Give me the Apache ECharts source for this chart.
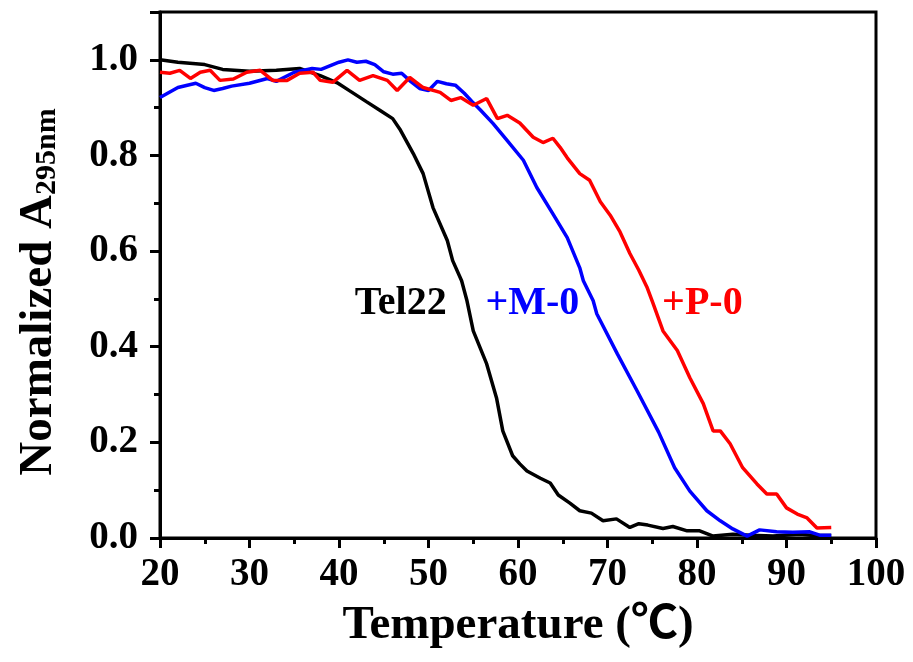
<!DOCTYPE html>
<html>
<head>
<meta charset="utf-8">
<script src="https://cdn.jsdelivr.net/npm/echarts@6/dist/echarts.min.js"></script>
<style>
  html, body { margin: 0; padding: 0; background: #fff; }
  #chart { width: 913px; height: 662px; }
</style>
</head>
<body>
<div id="chart"></div>
<script>
// 熔解曲线数据 [温度, 归一化吸光度]
const tel22 = [
  [20, 1.0], [22, 0.995], [25, 0.99], [27, 0.98], [30, 0.976], [33, 0.978],
  [35.6, 0.982], [37.9, 0.967], [39.8, 0.952], [41.2, 0.935], [43.1, 0.912],
  [44.6, 0.894], [46, 0.877], [46.8, 0.855], [48.3, 0.804], [49.4, 0.762],
  [50.5, 0.691], [52.1, 0.622], [52.7, 0.58], [53.7, 0.538], [54.3, 0.496],
  [55, 0.433], [56.5, 0.364], [57.6, 0.293], [58.3, 0.224], [59.4, 0.172],
  [60.2, 0.155], [61, 0.14], [62.5, 0.125], [63.6, 0.115], [64.5, 0.09],
  [65.8, 0.073], [66.9, 0.057], [68.2, 0.052], [69.5, 0.036], [71, 0.04],
  [72.5, 0.022], [73.5, 0.03], [74.5, 0.027], [76.2, 0.02], [77.3, 0.024],
  [78.9, 0.015], [80.3, 0.015], [81.8, 0.004], [84, 0.008], [86, 0.006],
  [88.5, 0.004], [91.5, 0.008], [93, 0.005], [95, 0.005]
]
const m0 = [
  [20, 0.921], [22, 0.942], [24, 0.951], [25, 0.942], [26, 0.936], [27, 0.94],
  [28, 0.945], [30, 0.951], [32, 0.961], [33, 0.955], [35, 0.974], [37, 0.982],
  [38, 0.98], [40, 0.995], [41, 1.0], [42, 0.995], [43, 0.997], [44, 0.99],
  [45, 0.975], [46, 0.97], [47, 0.972], [48, 0.955], [49, 0.94], [50, 0.936],
  [51, 0.955], [52, 0.95], [53, 0.947], [54, 0.93], [55, 0.91], [55.8, 0.895],
  [57.2, 0.867], [58.8, 0.831], [60.6, 0.79], [62.1, 0.733], [63.9, 0.678],
  [65.5, 0.628], [66.9, 0.565], [67.3, 0.538], [68.4, 0.496], [68.8, 0.469],
  [71.1, 0.385], [73.3, 0.308], [75.7, 0.222], [77.5, 0.147], [79.2, 0.098],
  [81.1, 0.057], [82.6, 0.036], [84, 0.019], [85.6, 0.004], [87, 0.017],
  [88.9, 0.013], [90.7, 0.012], [92.6, 0.013], [93.7, 0.006], [95, 0.006]
]
const p0 = [
  [20, 0.974], [21.1, 0.972], [22.2, 0.978], [23.4, 0.961], [24.5, 0.974],
  [25.6, 0.978], [26.7, 0.957], [28.2, 0.96], [29.7, 0.974], [31.2, 0.978],
  [32.6, 0.957], [34.2, 0.957], [35.6, 0.972], [37.1, 0.974], [37.9, 0.957],
  [39.3, 0.953], [40.9, 0.978], [42.3, 0.957], [43.8, 0.967], [45.4, 0.957],
  [46.5, 0.936], [47.9, 0.963], [49.4, 0.942], [51.3, 0.932], [52.5, 0.915],
  [53.6, 0.921], [55, 0.905], [56.5, 0.919], [57.7, 0.877], [58.8, 0.884],
  [60.2, 0.868], [61.7, 0.838], [62.8, 0.827], [63.9, 0.836], [64.7, 0.817],
  [65.5, 0.795], [66.9, 0.762], [68, 0.748], [69.2, 0.703], [70.3, 0.675],
  [71.4, 0.64], [72.5, 0.595], [73.5, 0.56], [74.4, 0.525], [75.1, 0.49],
  [76.2, 0.433], [77.8, 0.392], [79.2, 0.335], [80.7, 0.281], [81.8, 0.224],
  [82.6, 0.224], [83.7, 0.197], [85.1, 0.147], [86.7, 0.113], [87.8, 0.092],
  [88.9, 0.092], [90, 0.063], [91.2, 0.05], [92.3, 0.042], [93.4, 0.021],
  [95, 0.022]
]
// 曲线标注
const labelNames = ['Tel22', '+M-0', '+P-0']
const labelX = [46.9, 61.6, 80.6]
const labelY = [0.49, 0.49, 0.49]
const colors = ['#000000', '#0000ff', '#ff0000']

const font = "'Liberation Serif', 'Times New Roman', 'Noto Sans CJK SC', serif"

const chart = echarts.init(document.getElementById('chart'))
const option = {
  animation: false,
  backgroundColor: '#fff',
  grid: {
    left: 160, right: 37, top: 12, bottom: 124,
    show: true, borderColor: '#000', borderWidth: 3
  },
  xAxis: {
    type: 'value', min: 20, max: 100, interval: 10,
    name: 'Temperature (℃)', nameLocation: 'middle', nameGap: 64,
    nameTextStyle: { fontFamily: font, fontWeight: 'bold', fontSize: 47, color: '#000' },
    axisLine: { lineStyle: { color: '#000', width: 3 } },
    axisTick: { length: 10, lineStyle: { color: '#000', width: 3 } },
    minorTick: { show: true, splitNumber: 2, length: 6, lineStyle: { color: '#000', width: 3 } },
    axisLabel: { fontFamily: font, fontWeight: 'bold', fontSize: 39, color: '#000', margin: 17 },
    splitLine: { show: false }
  },
  yAxis: {
    type: 'value', min: 0, max: 1.1, interval: 0.2,
    name: '{a|Normalized A}{s|295nm}', nameLocation: 'middle', nameGap: 98,
    nameTextStyle: {
      color: '#000',
      rich: {
        a: { fontFamily: font, fontWeight: 'bold', fontSize: 47, color: '#000' },
        s: { fontFamily: font, fontWeight: 'bold', fontSize: 30, color: '#000',
             verticalAlign: 'bottom', padding: [0, 34, 0, 0] }
      }
    },
    axisLine: { lineStyle: { color: '#000', width: 3 } },
    axisTick: { length: 10, lineStyle: { color: '#000', width: 3 } },
    minorTick: { show: true, splitNumber: 2, length: 6, lineStyle: { color: '#000', width: 3 } },
    axisLabel: {
      fontFamily: font, fontWeight: 'bold', fontSize: 39, color: '#000', margin: 22,
      showMaxLabel: false,
      formatter: v => v.toFixed(1)
    },
    splitLine: { show: false }
  },
  series: [
    { name: 'Tel22', type: 'line', data: tel22, showSymbol: false,
      lineStyle: { color: colors[0], width: 3.5 } },
    { name: '+M-0', type: 'line', data: m0, showSymbol: false,
      lineStyle: { color: colors[1], width: 3.5 } },
    { name: '+P-0', type: 'line', data: p0, showSymbol: false,
      lineStyle: { color: colors[2], width: 3.5 } },
    {
      type: 'scatter', symbolSize: 0, silent: true,
      itemStyle: { opacity: 1 },
      data: labelNames.map((n, i) => ({
        value: [labelX[i], labelY[i]],
        label: {
          show: true, position: 'inside', formatter: n, color: colors[i],
          opacity: 1, fontFamily: font, fontWeight: 'bold', fontSize: 40
        }
      }))
    }
  ]
}
chart.setOption(option)
</script>
</body>
</html>
